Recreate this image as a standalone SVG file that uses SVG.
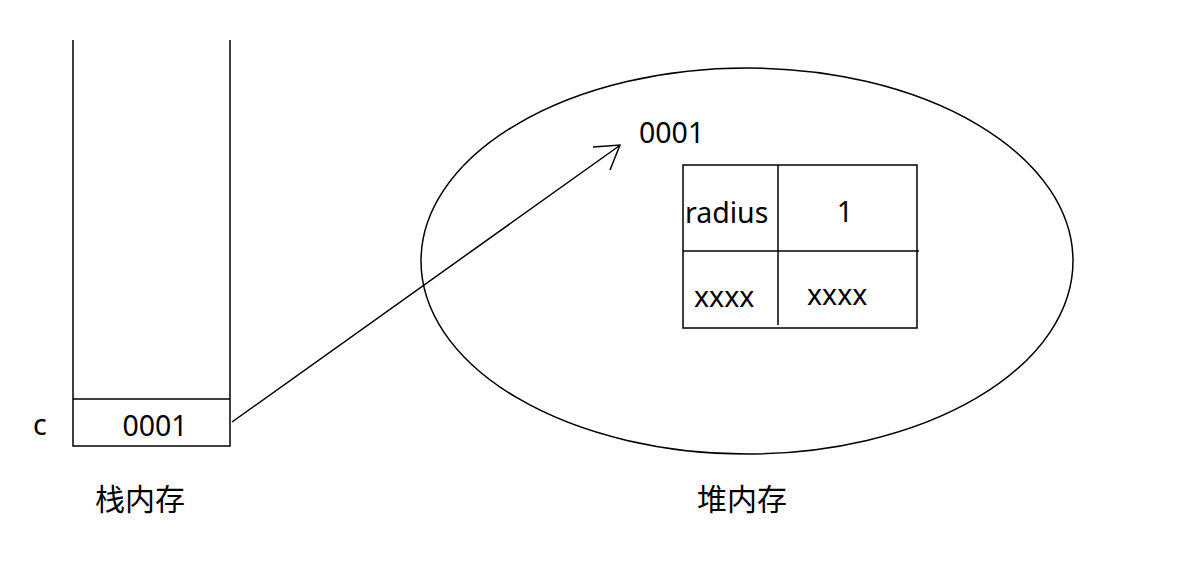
<svg xmlns="http://www.w3.org/2000/svg" width="1188" height="561" viewBox="0 0 1188 561">
<style>
.ln{stroke:#000;stroke-width:1.5;fill:none}
.t{font-family:"Noto Sans","Noto Sans CJK SC",sans-serif;font-size:28.5px;fill:#000}
.c{font-family:"Noto Sans CJK SC",sans-serif;font-size:30px;fill:#000}
</style>
<rect width="1188" height="561" fill="#fff"/>
<g id="stack">
<path class="ln" d="M73,40V446H230V40M73,399H230"/>
<text class="t" x="155" y="436" text-anchor="middle">0001</text>
<text class="t" x="33" y="435">c</text>
<text class="c" x="95" y="510">栈内存</text>
</g>
<g id="heap">
<ellipse class="ln" cx="747" cy="261" rx="326" ry="193"/>
<text class="t" x="639" y="143">0001</text>
<text class="c" x="697" y="510">堆内存</text>
</g>
<g id="object">
<path class="ln" d="M683,165H917V328H683ZM778,165V325M683,251H919"/>
<text class="t" x="685" y="223">radius</text>
<text class="t" x="845" y="222" text-anchor="middle">1</text>
<text class="t" x="694" y="307">xxxx</text>
<text class="t" x="807" y="305">xxxx</text>
</g>
<g id="connectors">
<path class="ln" d="M232,422L619,146"/>
<path class="ln" d="M593,147L620,145L610,170"/>
</g>
</svg>
